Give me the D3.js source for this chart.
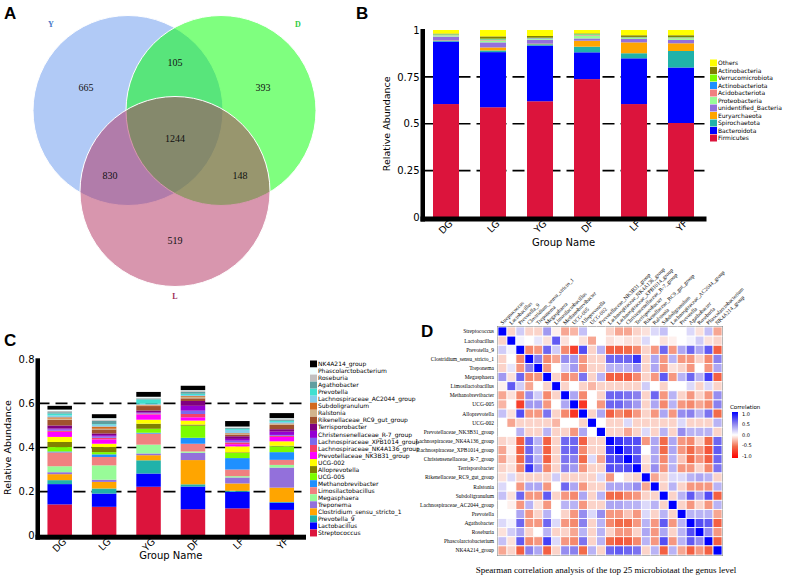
<!DOCTYPE html>
<html>
<head>
<meta charset="utf-8">
<title>Microbiota figure</title>
<script src="https://cdnjs.cloudflare.com/ajax/libs/d3/7.8.5/d3.min.js"></script>
<style>
  body { margin: 0; background: #fff; }
  .sans { font-family: "DejaVu Sans", sans-serif; }
  .serif { font-family: "Liberation Serif", "Times New Roman", serif; }
</style>
</head>
<body>
<div id="fig"></div>
<script>
// ---------------- data ----------------
var vennNames = ["Y", "D", "L"];
var vennNameColors = ["#4a78c8", "#2ecc40", "#a0305a"];
var vennRegionLabels = ["Y only", "Y&D", "D only", "Y&D&L", "Y&L", "D&L", "L only"];
var vennCounts = [665, 105, 393, 1244, 830, 148, 519];

var groups = ["DG", "LG", "YG", "DF", "LF", "YF"];

// panel B, phylum level (bottom -> top)
var phyla = ["Firmicutes", "Bacteroidota", "Spirochaetota", "Euryarchaeota", "unidentified_Bacteria",
  "Proteobacteria", "Acidobacteriota", "Actinobacteriota", "Verrucomicrobiota", "Actinobacteria", "Others"];
var phylaColors = ["#DC143C", "#0000FF", "#20B2AA", "#FFA500", "#9370DB",
  "#98FB98", "#F08080", "#1E90FF", "#7CFC00", "#808000", "#FFFF00"];
var phylaDG = [0.605, 0.333, 0.005, 0.002, 0.020, 0.007, 0.002, 0.002, 0.002, 0.003, 0.019];
var phylaLG = [0.588, 0.294, 0.009, 0.016, 0.027, 0.010, 0.003, 0.003, 0.004, 0.012, 0.034];
var phylaYG = [0.620, 0.297, 0.007, 0.003, 0.021, 0.005, 0.002, 0.002, 0.002, 0.009, 0.032];
var phylaDF = [0.738, 0.143, 0.030, 0.032, 0.012, 0.015, 0.003, 0.003, 0.003, 0.003, 0.018];
var phylaLF = [0.605, 0.244, 0.027, 0.058, 0.018, 0.005, 0.002, 0.002, 0.002, 0.009, 0.028];
var phylaYF = [0.504, 0.296, 0.088, 0.041, 0.018, 0.009, 0.002, 0.002, 0.002, 0.010, 0.028];
var bTicks = [0, 0.25, 0.5, 0.75, 1];
var bTickLabels = ["0", "0.25", "0.5", "0.75", "1"];

// panel C, genus level (bottom -> top)
var genera = ["Streptococcus", "Lactobacillus", "Prevotella_9", "Clostridium_sensu_stricto_1", "Treponema",
  "Megasphaera", "Limosilactobacillus", "Methanobrevibacter", "UCG-005", "Alloprevotella", "UCG-002",
  "Prevotellaceae_NK3B31_group", "Lachnospiraceae_NK4A136_group", "Lachnospiraceae_XPB1014_group",
  "Christensenellaceae_R-7_group", "Terrisporobacter", "Rikenellaceae_RC9_gut_group", "Ralstonia",
  "Subdoligranulum", "Lachnospiraceae_AC2044_group", "Prevotella", "Agathobacter", "Roseburia",
  "Phascolarctobacterium", "NK4A214_group"];
var generaColors = ["#DC143C", "#0000FF", "#20B2AA", "#FFA500", "#9370DB",
  "#98FB98", "#F08080", "#1E90FF", "#7CFC00", "#808000", "#FFFF00",
  "#FF00FF", "#F4406A", "#7B68EE",
  "#9400D3", "#800080", "#A0522D", "#D2B48C",
  "#D2691E", "#87CEEB", "#40E0D0", "#5F9EA0", "#C0C0C0",
  "#F0FFFF", "#000000"];
var genusDG = [0.142, 0.092, 0.018, 0.027, 0.009, 0.027, 0.063, 0.004, 0.020, 0.023, 0.023, 0.023, 0.005, 0.006, 0.004, 0.014, 0.026, 0.005, 0.006, 0.008, 0.009, 0.006, 0.006, 0.006, 0.017];
var genusLG = [0.131, 0.060, 0.023, 0.030, 0.010, 0.065, 0.038, 0.012, 0.010, 0.023, 0.015, 0.020, 0.007, 0.006, 0.006, 0.008, 0.018, 0.003, 0.010, 0.008, 0.003, 0.015, 0.006, 0.006, 0.018];
var genusYG = [0.222, 0.060, 0.060, 0.023, 0.008, 0.040, 0.050, 0.004, 0.018, 0.023, 0.018, 0.024, 0.004, 0.003, 0.003, 0.008, 0.020, 0.003, 0.003, 0.004, 0.020, 0.004, 0.004, 0.004, 0.022];
var genusDF = [0.120, 0.103, 0.010, 0.110, 0.033, 0.006, 0.035, 0.027, 0.055, 0.005, 0.018, 0.015, 0.015, 0.015, 0.022, 0.022, 0.012, 0.006, 0.004, 0.005, 0.006, 0.008, 0.004, 0.004, 0.020];
var genusLF = [0.124, 0.075, 0.005, 0.033, 0.027, 0.006, 0.030, 0.052, 0.023, 0.003, 0.027, 0.010, 0.008, 0.008, 0.008, 0.012, 0.008, 0.003, 0.003, 0.015, 0.004, 0.004, 0.003, 0.004, 0.025];
var genusYF = [0.117, 0.033, 0.003, 0.065, 0.091, 0.012, 0.023, 0.035, 0.026, 0.003, 0.020, 0.020, 0.005, 0.004, 0.015, 0.011, 0.020, 0.003, 0.003, 0.007, 0.005, 0.005, 0.003, 0.004, 0.023];
var cTicks = [0, 0.2, 0.4, 0.6, 0.8];
var cTickLabels = ["0", "0.2", "0.4", "0.6", "0.8"];

// panel D, Spearman correlation (upper triangle, row i starts at column i)
var corrUpper = [
  [1, -0.15, 0.2, -0.15, -0.15, 0.4, -0.05, -0.3, -0.25, 0.25, 0, 0, -0.15, -0.3, -0.3, -0.15, -0.1, 0.15, 0.25, 0, 0, 0.15, -0.1, 0.25, -0.3],
  [1, 0.05, 0, 0.1, -0.1, 0.65, -0.1, 0, -0.1, -0.3, 0, -0.1, -0.05, -0.1, -0.1, 0.15, 0, -0.1, -0.05, 0, 0.05, 0.2, -0.1, -0.15],
  [1, -0.4, -0.35, 0.6, 0.2, -0.4, -0.7, 0.7, -0.15, 0.3, -0.55, -0.55, -0.5, -0.4, -0.15, -0.35, 0.6, -0.35, 0.35, 0.6, 0.35, 0.65, -0.55],
  [1, 0.5, -0.4, -0.3, 0.45, 0.4, -0.35, -0.15, -0.15, 0.6, 0.6, 0.6, 0.8, -0.15, 0.35, -0.35, 0.3, -0.35, -0.35, -0.15, -0.4, 0.5],
  [1, -0.35, 0, 0.2, 0.4, -0.35, -0.15, -0.15, 0.3, 0.3, 0.3, 0.4, -0.15, 0.35, -0.35, -0.1, -0.15, -0.35, 0, -0.35, 0.35],
  [1, -0.15, -0.4, -0.35, 0.55, -0.15, 0.3, -0.55, -0.55, -0.55, -0.4, -0.15, -0.35, 0.65, -0.35, 0.3, 0.6, 0.3, 0.75, -0.55],
  [1, -0.15, 0, -0.15, -0.25, -0.15, -0.15, -0.15, -0.15, -0.15, 0.2, 0, -0.15, 0, 0, 0.15, -0.15, 0.15, -0.15],
  [1, 0.35, -0.4, 0, -0.15, 0.6, 0.6, 0.55, 0.5, -0.15, 0.6, -0.35, 0.3, -0.15, -0.35, -0.15, -0.35, 0.45],
  [1, -0.75, 0, -0.35, 0.6, 0.6, 0.5, 0.4, -0.15, 0.35, -0.4, 0.3, -0.35, -0.4, -0.3, -0.4, 0.5],
  [1, -0.15, 0.35, -0.55, -0.4, -0.5, -0.35, -0.15, -0.35, 0.35, -0.35, 0.45, 0.5, 0.3, 0.55, -0.5],
  [1, 0, -0.15, -0.15, 0.15, -0.15, -0.15, -0.15, -0.15, -0.15, 0.15, -0.15, -0.15, -0.15, 0.3],
  [1, -0.15, -0.15, -0.3, -0.15, 0.15, -0.15, 0.3, -0.15, 0.45, 0.3, 0.3, 0.3, -0.15],
  [1, 0.8, 0.7, 0.7, -0.35, 0.35, -0.5, 0.35, -0.35, -0.4, -0.15, -0.5, 0.6],
  [1, 0.75, 0.65, 0, 0.35, -0.5, 0.35, -0.35, -0.5, -0.35, -0.6, 0.65],
  [1, 0.7, -0.1, 0.35, -0.4, 0.3, -0.2, -0.5, -0.35, -0.55, 0.6],
  [1, -0.15, 0.45, -0.35, 0.3, -0.35, -0.35, -0.15, -0.4, 0.55],
  [1, -0.3, -0.15, 0.15, 0.15, 0.3, 0.35, 0.3, -0.15],
  [1, -0.15, 0.3, -0.15, -0.35, -0.35, -0.35, 0.3],
  [1, -0.15, 0.3, 0.65, 0.35, 0.7, -0.55],
  [1, -0.15, -0.35, -0.15, -0.35, 0.3],
  [1, 0.3, 0.3, 0.3, -0.3],
  [1, 0.7, 0.65, -0.55],
  [1, 0.45, -0.35],
  [1, -0.55],
  [1]
];
var corrTicks = [1, 0.5, 0, -0.5, -1];
var corrTickLabels = ["1.0", "0.5", "0.0", "-0.5", "-1.0"];

// ---------------- svg ----------------
var svg = d3.select("#fig").append("svg")
  .attr("width", 789).attr("height", 580);

function panelLetter(t, x, y) {
  svg.append("text").attr("x", x).attr("y", y)
    .style("font-family", "Liberation Sans, Arial, sans-serif")
    .style("font-weight", "bold").style("font-size", "17px").text(t);
}
panelLetter("A", 4, 19);
panelLetter("B", 356, 19);
panelLetter("C", 4, 346);
panelLetter("D", 421, 337);

// ---------------- A: Venn ----------------
var venn = svg.append("g");
var circles = [
  {cx: 128, cy: 110.5, r: 95, fill: "#6495ED"},
  {cx: 221, cy: 110.5, r: 95, fill: "#00FF00"},
  {cx: 175, cy: 191.5, r: 95, fill: "#B22D5D"}
];
venn.selectAll("circle").data(circles).enter().append("circle")
  .attr("cx", function(d) { return d.cx; })
  .attr("cy", function(d) { return d.cy; })
  .attr("r", function(d) { return d.r; })
  .style("fill", function(d) { return d.fill; })
  .style("fill-opacity", 0.5)
  .style("stroke", "#fff").style("stroke-width", 1);

var namePos = [[51, 27], [298, 27], [175, 299]];
venn.selectAll(".vname").data(vennNames).enter().append("text")
  .attr("class", "serif")
  .attr("x", function(d, i) { return namePos[i][0]; })
  .attr("y", function(d, i) { return namePos[i][1]; })
  .attr("text-anchor", "middle")
  .style("font-size", "8px").style("font-weight", "bold")
  .style("fill", function(d, i) { return vennNameColors[i]; })
  .text(function(d) { return d; });

var countPos = [[86, 91], [175, 66], [263, 91], [175, 142], [110, 179], [240, 179], [175, 244]];
venn.selectAll(".vcount").data(vennCounts).enter().append("text")
  .attr("class", "serif")
  .attr("x", function(d, i) { return countPos[i][0]; })
  .attr("y", function(d, i) { return countPos[i][1]; })
  .attr("text-anchor", "middle")
  .style("font-size", "10px").style("fill", "#111")
  .text(function(d) { return d; });

// ---------------- stacked bar helper ----------------
function stackedPanel(opt) {
  var g = svg.append("g").attr("class", "sans");
  var keys = opt.keys;
  var rows = opt.groups.map(function(gr, gi) {
    var o = {group: gr};
    keys.forEach(function(k, ki) { o[k] = opt.values[gi][ki]; });
    return o;
  });
  var series = d3.stack().keys(keys)(rows);
  var x = d3.scalePoint().domain(opt.groups).range(opt.xRange).padding(0.5);
  var y = d3.scaleLinear().domain(opt.yDomain).range(opt.yRange);

  // dashed grid
  g.selectAll(".grid").data(opt.grid).enter().append("line")
    .attr("x1", opt.xRange[0]).attr("x2", opt.xRange[1] + 1)
    .attr("y1", function(d) { return y(d); }).attr("y2", function(d) { return y(d); })
    .style("stroke", "#000").style("stroke-width", 1.6).style("stroke-dasharray", "12,6");

  g.selectAll(".layer").data(series).enter().append("g")
    .style("fill", function(d, i) { return opt.colors[i]; })
    .selectAll("rect").data(function(d) { return d; }).enter().append("rect")
    .attr("x", function(d) { return x(d.data.group) - opt.barW / 2; })
    .attr("width", opt.barW)
    .attr("y", function(d) { return y(d[1]); })
    .attr("height", function(d) { return Math.max(0, y(d[0]) - y(d[1])); });

  // thick axes
  g.append("rect").attr("x", opt.xRange[0] - 2).attr("y", y(opt.yDomain[1]) - 1)
    .attr("width", 4.5).attr("height", y(0) - y(opt.yDomain[1]) + 5).style("fill", "#000");
  g.append("rect").attr("x", opt.xRange[0] - 2).attr("y", y(0) - 1)
    .attr("width", opt.xRange[1] - opt.xRange[0] + 4).attr("height", 5).style("fill", "#000");

  var ya = g.append("g").attr("transform", "translate(" + (opt.xRange[0] - 1) + ",0)")
    .call(d3.axisLeft(y).tickValues(opt.ticks).tickSize(0).tickPadding(2)
      .tickFormat(function(d, i) { return opt.tickLabels[i]; }));
  ya.select(".domain").remove();
  ya.selectAll("text").style("font-family", "DejaVu Sans, sans-serif").style("font-size", "10px");

  var xa = g.append("g").attr("transform", "translate(0," + (y(0) + 4) + ")")
    .call(d3.axisBottom(x).tickSize(0).tickPadding(0));
  xa.select(".domain").remove();
  xa.selectAll("text")
    .style("font-family", "DejaVu Sans, sans-serif").style("font-size", "9.5px")
    .attr("text-anchor", "end").attr("dy", "0.7em").attr("dx", "0.3em")
    .attr("transform", "rotate(-45)");

  g.append("text").attr("x", (opt.xRange[0] + opt.xRange[1]) / 2).attr("y", opt.xLabelY)
    .attr("text-anchor", "middle").style("font-size", "10px").text("Group Name");
  g.append("text")
    .attr("transform", "translate(" + opt.yLabelX + "," + ((y(0) + y(opt.yDomain[1])) / 2) + ") rotate(-90)")
    .attr("text-anchor", "middle").style("font-size", "9.5px").text("Relative Abundance");

  // legend, top item = last key
  var leg = g.append("g");
  var n = keys.length;
  var items = leg.selectAll(".li").data(keys.slice().reverse()).enter().append("g")
    .attr("transform", function(d, i) { return "translate(" + opt.legX + "," + (opt.legY + i * opt.legStep) + ")"; });
  items.append("rect").attr("x", 0).attr("y", -3.5).attr("width", 7).attr("height", 7)
    .style("fill", function(d, i) { return opt.colors[n - 1 - i]; });
  items.append("text").attr("x", 8).attr("y", 0).attr("dy", "0.35em")
    .style("font-size", "6px").text(function(d) { return d; });
}

stackedPanel({
  keys: phyla, colors: phylaColors, groups: groups,
  values: [phylaDG, phylaLG, phylaYG, phylaDF, phylaLF, phylaYF],
  xRange: [422.5, 704.5], yDomain: [0, 1], yRange: [217.5, 30], barW: 26,
  grid: [0.25, 0.5, 0.75], ticks: bTicks, tickLabels: bTickLabels,
  xLabelY: 246, yLabelX: 390,
  legX: 710, legY: 63, legStep: 7.5
});

stackedPanel({
  keys: genera, colors: generaColors, groups: groups,
  values: [genusDG, genusLG, genusYG, genusDF, genusLF, genusYF],
  xRange: [37.5, 304], yDomain: [0, 0.8], yRange: [535.7, 359.3], barW: 24.5,
  grid: [0.2, 0.4, 0.6], ticks: cTicks, tickLabels: cTickLabels,
  xLabelY: 559, yLabelX: 11,
  legX: 310, legY: 364, legStep: 7.04
});

// ---------------- D: correlation heatmap ----------------
var nG = genera.length;
var corr = [];
for (var i = 0; i < nG; i++) corr.push(new Array(nG));
corrUpper.forEach(function(row, i) {
  row.forEach(function(v, k) { var j = i + k; corr[i][j] = v; corr[j][i] = v; });
});
var cells = [];
corr.forEach(function(row, i) { row.forEach(function(v, j) { cells.push({r: i, c: j, v: v}); }); });

var hm = svg.append("g");
var xD = d3.scaleBand().domain(d3.range(nG)).range([498, 722]);
var yD = d3.scaleBand().domain(d3.range(nG)).range([327, 555]);
var colD = d3.scaleLinear().domain([-1, -0.5, 0, 0.5, 1])
  .range(["#ff0000", "#f26b4a", "#ffffff", "#8a80ee", "#0000ff"]);

hm.append("rect").attr("x", 497.5).attr("y", 326.5).attr("width", 225).attr("height", 229)
  .style("fill", "#fff").style("stroke", "#888").style("stroke-width", 1);
hm.selectAll(".cell").data(cells).enter().append("rect")
  .attr("x", function(d) { return xD(d.c); })
  .attr("y", function(d) { return yD(d.r); })
  .attr("width", xD.bandwidth()).attr("height", yD.bandwidth())
  .style("fill", function(d) { return colD(d.v); })
  .style("stroke", "#fff").style("stroke-width", 0.8);

hm.selectAll(".rlab").data(genera).enter().append("text")
  .attr("class", "serif")
  .attr("x", 494).attr("y", function(d, i) { return yD(i) + yD.bandwidth() / 2; })
  .attr("dy", "0.35em").attr("text-anchor", "end")
  .style("font-size", "5.5px").text(function(d) { return d; });

hm.selectAll(".clab").data(genera).enter().append("text")
  .attr("class", "serif")
  .attr("transform", function(d, i) { return "translate(" + (xD(i) + xD.bandwidth() / 2) + ",325) rotate(-45)"; })
  .attr("text-anchor", "start")
  .style("font-size", "5.5px").text(function(d) { return d; });

// colour bar
var defs = svg.append("defs");
var grad = defs.append("linearGradient").attr("id", "cbar")
  .attr("x1", 0).attr("y1", 0).attr("x2", 0).attr("y2", 1);
[1, 0.5, 0, -0.5, -1].forEach(function(v, i) {
  grad.append("stop").attr("offset", (i * 25) + "%").attr("stop-color", colD(v));
});
var cbY = d3.scaleLinear().domain([1, -1]).range([414, 456]);
hm.append("rect").attr("x", 732).attr("y", 412).attr("width", 6).attr("height", 46)
  .style("fill", "url(#cbar)");
hm.append("text").attr("class", "sans").attr("x", 730).attr("y", 409)
  .style("font-size", "5.5px").text("Correlation");
hm.selectAll(".cbt").data(corrTicks).enter().append("text")
  .attr("class", "sans").attr("x", 742).attr("y", function(d) { return cbY(d); })
  .attr("dy", "0.35em").style("font-size", "5px")
  .text(function(d, i) { return corrTickLabels[i]; });

svg.append("text").attr("class", "serif").attr("x", 606).attr("y", 573)
  .attr("text-anchor", "middle").style("font-size", "9px")
  .text("Spearman correlation analysis of the top 25 microbiotaat the genus level");
</script>
</body>
</html>
